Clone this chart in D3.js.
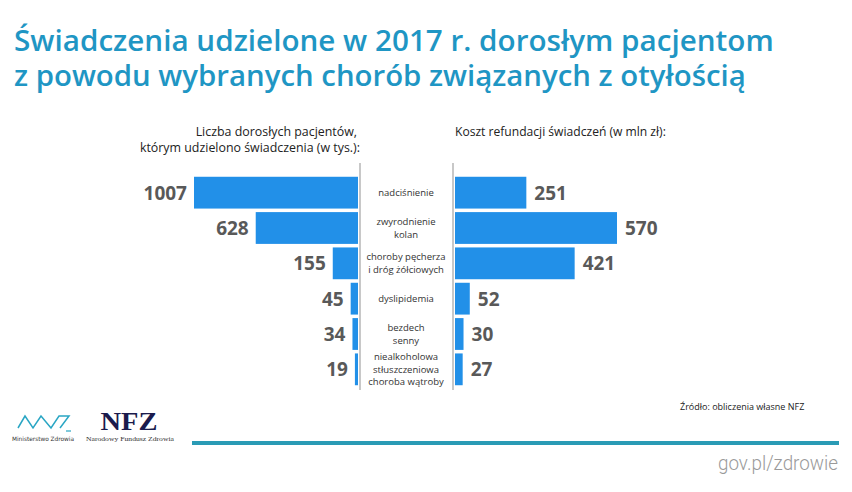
<!DOCTYPE html>
<html><head><meta charset="utf-8">
<script src="https://cdn.jsdelivr.net/npm/d3@7"></script>
<style>
html,body{margin:0;padding:0;background:#fff;}
svg{display:block;}
</style></head>
<body>
<svg id="c" width="852" height="492"></svg>
<script>
const categories = ["nadciśnienie","zwyrodnienie\nkolan","choroby pęcherza\ni dróg żółciowych","dyslipidemia","bezdech\nsenny","niealkoholowa\nstłuszczeniowa\nchoroba wątroby"];
const patients = [1007, 628, 155, 45, 34, 19];   // tys.
const cost = [251, 570, 421, 52, 30, 27];        // mln zł
const titleLines = ["Świadczenia udzielone w 2017 r. dorosłym pacjentom","z powodu wybranych chorób związanych z otyłością"];
const leftHeader = ["Liczba dorosłych pacjentów,","którym udzielono świadczenia (w tys.):"];
const rightHeader = ["Koszt refundacji świadczeń (w mln zł):"];
const source = "Źródło:  obliczenia własne NFZ";

const svg = d3.select("#c");
const barColor = "#2290e8";
const valColor = "#595959";

// Title (one text element, one tspan per line)
const titleFont = "'Open Sans', 'DejaVu Sans', sans-serif";
const titleWidths = [760, 732];
const title = svg.append("text").attr("font-family",titleFont).attr("font-weight",600)
  .attr("fill","#1f96c4");
titleLines.forEach((t,i)=>{
  const ts = title.append("tspan").attr("x",14).attr("y",51+i*35).attr("font-size",28).text(t);
  const w = ts.node().getComputedTextLength();
  ts.attr("font-size", 28*titleWidths[i]/w);
});

// Scales
const y = d3.scaleBand().domain(categories).range([175,387]).paddingInner(0.1).paddingOuter(0.05);
const xL = d3.scaleLinear().domain([0,1007]).range([358,194]);
const xR = d3.scaleLinear().domain([0,570]).range([455,617]);

// headers
const hdrFont = "'Open Sans', sans-serif";
leftHeader.forEach((t,i)=>{
  svg.append("text").attr("x",i===0?357:360).attr("y",136+i*16).attr("text-anchor","end")
    .attr("font-family",hdrFont).attr("font-size",12.4).attr("fill","#222").text(t);
});
rightHeader.forEach((t,i)=>{
  svg.append("text").attr("x",455).attr("y",136+i*16)
    .attr("font-family",hdrFont).attr("font-size",12.1).attr("fill","#222").text(t);
});

// separator lines
[360,453].forEach(x=>{
  svg.append("line").attr("x1",x).attr("x2",x).attr("y1",163).attr("y2",390)
    .attr("stroke","#c8c8c8").attr("stroke-width",2);
});

// left bars
svg.selectAll("rect.l").data(categories).join("rect").attr("class","l")
  .attr("x",(d,i)=>xL(patients[i])).attr("y",d=>y(d))
  .attr("width",(d,i)=>xL(0)-xL(patients[i])).attr("height",y.bandwidth())
  .attr("fill",barColor);
svg.selectAll("text.lv").data(categories).join("text").attr("class","lv")
  .attr("x",(d,i)=>xL(patients[i])-7).attr("y",d=>y(d)+y.bandwidth()/2)
  .attr("dy","0.36em").attr("text-anchor","end")
  .attr("font-family","'Open Sans', sans-serif").attr("font-weight",700).attr("font-size",19)
  .attr("fill",valColor).text((d,i)=>patients[i]);

// right bars
svg.selectAll("rect.r").data(categories).join("rect").attr("class","r")
  .attr("x",xR(0)).attr("y",d=>y(d))
  .attr("width",(d,i)=>xR(cost[i])-xR(0)).attr("height",y.bandwidth())
  .attr("fill",barColor);
svg.selectAll("text.rv").data(categories).join("text").attr("class","rv")
  .attr("x",(d,i)=>xR(cost[i])+8).attr("y",d=>y(d)+y.bandwidth()/2)
  .attr("dy","0.36em")
  .attr("font-family","'Open Sans', sans-serif").attr("font-weight",700).attr("font-size",19)
  .attr("fill",valColor).text((d,i)=>cost[i]);

// category labels
categories.forEach(c=>{
  const lines = c.split("\n");
  const cy = y(c)+y.bandwidth()/2;
  const lh = 12.5;
  lines.forEach((l,j)=>{
    svg.append("text").attr("x",406).attr("y",cy+(j-(lines.length-1)/2)*lh)
      .attr("dy","0.35em").attr("text-anchor","middle")
      .attr("font-family","'Open Sans', sans-serif").attr("font-size",9.5).attr("fill","#333").text(l);
  });
});

// source
svg.append("text").attr("x",680).attr("y",410)
  .attr("font-family","'Open Sans', sans-serif").attr("font-size",9).attr("fill","#222").text(source);

// footer line
svg.append("line").attr("x1",192).attr("x2",839).attr("y1",443).attr("y2",443)
  .attr("stroke","#2a9bb5").attr("stroke-width",4);

// gov.pl/zdrowie
const gov = svg.append("text").attr("x",838).attr("y",470).attr("text-anchor","end")
  .attr("font-family","Roboto, sans-serif").attr("font-weight",300).attr("font-size",21)
  .attr("fill","#9a9a9a").text("gov.pl/zdrowie");
gov.attr("textLength",120).attr("lengthAdjust","spacingAndGlyphs");

// MZ logo
svg.append("path").attr("d","M18,428 L25,416 L33,428 L41,416 L51,428 L59,416 L69,416 L60,428")
  .attr("fill","none").attr("stroke","#2aa6c4").attr("stroke-width",1.5).attr("stroke-linejoin","miter");
svg.append("line").attr("x1",66).attr("x2",71).attr("y1",431).attr("y2",431).attr("stroke","#2aa6c4").attr("stroke-width",1.2);
svg.append("text").attr("x",12).attr("y",441).attr("font-family","'DejaVu Sans Condensed','DejaVu Sans',sans-serif")
  .attr("font-size",6).attr("fill","#333")
  .attr("textLength",62).attr("lengthAdjust","spacingAndGlyphs").text("Ministerstwo Zdrowia");

// NFZ logo
svg.append("text").attr("x",129).attr("y",430).attr("text-anchor","middle")
  .attr("font-family","'Liberation Serif','DejaVu Serif',serif").attr("font-weight",700)
  .attr("font-size",25).attr("fill","#1b1b4d").attr("textLength",57).attr("lengthAdjust","spacingAndGlyphs").text("NFZ");
svg.append("text").attr("x",130).attr("y",441).attr("text-anchor","middle")
  .attr("font-family","'Liberation Serif',serif").attr("font-size",6.8).attr("fill","#333")
  .attr("textLength",88).attr("lengthAdjust","spacingAndGlyphs").text("Narodowy Fundusz Zdrowia");
</script>
</body></html>
